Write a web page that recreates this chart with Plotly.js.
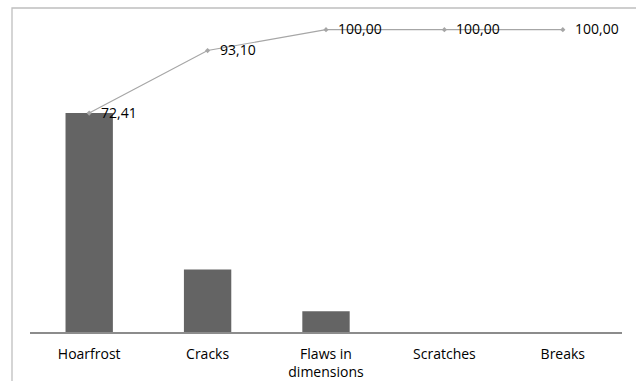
<!DOCTYPE html>
<html>
<head>
<meta charset="utf-8">
<script src="https://cdn.plot.ly/plotly-3.0.1.min.js"></script>
<style>html,body{margin:0;padding:0;background:#fff;}#chart{width:636px;height:381px;}</style>
</head>
<body>
<div id="chart"></div>
<script>
const categories = ["Hoarfrost", "Cracks", "Flaws in<br>dimensions", "Scratches", "Breaks"];
const percentValues = [72.41, 20.69, 6.90, 0, 0];
const cumulativeValues = [72.41, 93.10, 100.00, 100.00, 100.00];
const cumulativeLabels = ["72,41", "93,10", "100,00", "100,00", "100,00"];

const fontFam = "'Open Sans', 'Liberation Sans', sans-serif";

const traces = [
  {
    type: "bar",
    x: categories,
    y: percentValues,
    marker: {color: "#646464"},
    hoverinfo: "none"
  },
  {
    type: "scatter",
    mode: "lines+markers",
    x: categories,
    y: cumulativeValues,
    line: {color: "#a6a6a6", width: 1.2},
    marker: {color: "#a6a6a6", size: 4, symbol: "diamond"},
    cliponaxis: false,
    hoverinfo: "none"
  }
];

const annotations = categories.map((c, i) => ({
  x: c, y: cumulativeValues[i], xref: "x", yref: "y",
  text: cumulativeLabels[i], showarrow: false,
  xanchor: "left", yanchor: "middle", xshift: 10, yshift: 1,
  font: {family: fontFam, size: 14, color: "#000"}
}));

const layout = {
  width: 636,
  height: 381,
  margin: {l: 30, r: 13.5, t: 20, b: 49},
  paper_bgcolor: "#fff",
  plot_bgcolor: "#fff",
  showlegend: false,
  bargap: 0.6,
  font: {family: fontFam, size: 14, color: "#000"},
  annotations: annotations,
  xaxis: {
    showline: true,
    linecolor: "#8c8c8c",
    linewidth: 2,
    ticks: "",
    showgrid: false,
    zeroline: false,
    ticklabelstandoff: 8,
    tickfont: {family: fontFam, size: 14, color: "#000"},
    fixedrange: true
  },
  yaxis: {
    range: [0, 103.2],
    visible: false,
    showgrid: false,
    zeroline: false,
    fixedrange: true
  },
  shapes: [
    {
      type: "rect", xref: "paper", yref: "paper",
      x0: -0.0304, x1: 1.2, y0: -0.3, y1: 1.0385,
      line: {color: "#bfbfbf", width: 1.3},
      fillcolor: "rgba(0,0,0,0)",
      layer: "below"
    }
  ]
};

Plotly.newPlot("chart", traces, layout, {displayModeBar: false, staticPlot: true});
</script>
</body>
</html>
